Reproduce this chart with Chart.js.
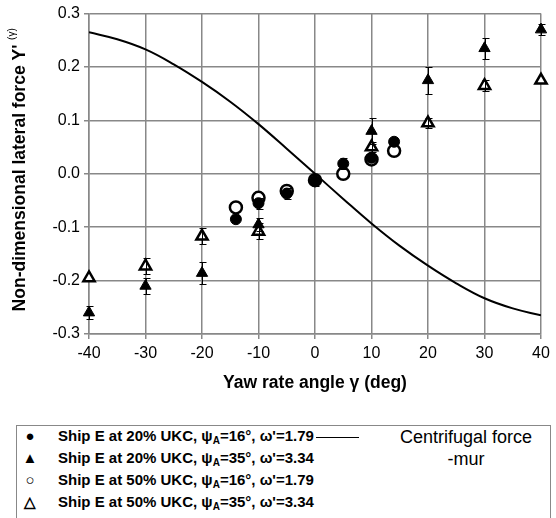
<!DOCTYPE html>
<html>
<head>
<meta charset="utf-8">
<script src="https://cdn.jsdelivr.net/npm/chart.js@4.4.0/dist/chart.umd.min.js"></script>
<style>
  body { margin: 0; background: #fff; font-family: "Liberation Sans", Arial, sans-serif; }
  #wrap { position: relative; width: 556px; height: 518px; }
  #legend {
    position: absolute; left: 16px; top: 425px; width: 535px; height: 100px;
    border: 1px solid #888; box-sizing: border-box;
  }
  .row { position: absolute; left: 0; height: 22px; font-size: 15px; font-weight: bold; white-space: nowrap; }
  .mk { position: absolute; left: 5px; width: 16px; text-align: center; font-size: 15px; }
  .tx { position: absolute; left: 41px; }
  sub { font-size: 10px; vertical-align: -3px; }
  #lineKey { position: absolute; left: 299px; top: 11px; width: 43px; border-top: 1.5px solid #000; }
  #lineTxt { position: absolute; left: 356px; top: 0px; width: 186px; text-align: center; font-size: 18px; line-height: 22px; }
</style>
</head>
<body>
<div id="wrap">
  <canvas id="myChart" width="556" height="418"></canvas>
  <div id="legend">
    <div class="row" style="top:1px"><span class="mk">●</span><span class="tx">Ship E at 20% UKC, ψ<sub>A</sub>=16°, ω'=1.79</span></div>
    <div class="row" style="top:23px"><span class="mk">▲</span><span class="tx">Ship E at 20% UKC, ψ<sub>A</sub>=35°, ω'=3.34</span></div>
    <div class="row" style="top:45px"><span class="mk">○</span><span class="tx">Ship E at 50% UKC, ψ<sub>A</sub>=16°, ω'=1.79</span></div>
    <div class="row" style="top:67px"><span class="mk">△</span><span class="tx">Ship E at 50% UKC, ψ<sub>A</sub>=35°, ω'=3.34</span></div>
    <div id="lineKey"></div>
    <div id="lineTxt">Centrifugal force<br>-mur</div>
  </div>
</div>
<script>
// yaw rate angle (deg) and measured lateral force
const circleX20 = [-14, -10, -5, 0, 5, 10, 14];
const circleY20 = [-0.085, -0.055, -0.037, -0.013, 0.019, 0.030, 0.060];
const circleErr20 = [0, 0.01, 0.01, 0.01, 0.01, 0, 0];

const triX20 = [-40, -30, -20, -10, 10, 20, 30, 40];
const triY20 = [-0.260, -0.210, -0.186, -0.095, 0.080, 0.175, 0.235, 0.270];
const triErr20 = [0.012, 0.015, 0.020, 0.012, 0.025, 0.025, 0.020, 0.010];

const circleX50 = [-14, -10, -5, 0, 5, 10, 14];
const circleY50 = [-0.063, -0.045, -0.032, -0.012, 0.000, 0.027, 0.043];
const circleErr50 = [0, 0, 0, 0, 0, 0, 0];

const triX50 = [-40, -30, -20, -10, 10, 20, 30, 40];
const triY50 = [-0.195, -0.173, -0.117, -0.108, 0.050, 0.095, 0.165, 0.175];
const triErr50 = [0, 0.015, 0.015, 0.015, 0.010, 0.010, 0.010, 0];

// centrifugal force -mur
const curveX = [-40, -35, -30, -25, -20, -15, -10, -5, 0, 5, 10, 15, 20, 25, 30, 35, 40];
const curveY = [0.265, 0.252, 0.233, 0.205, 0.172, 0.135, 0.093, 0.047, 0, -0.047, -0.093, -0.135, -0.172, -0.205, -0.233, -0.252, -0.265];

const xTicks = [-40, -30, -20, -10, 0, 10, 20, 30, 40];
const yTicks = [-0.3, -0.2, -0.1, 0.0, 0.1, 0.2, 0.3];

const pts = (xs, ys) => xs.map((x, i) => ({ x: x, y: ys[i] }));

const errorBars = {
    id: 'errorBars',
    afterDatasetsDraw(chart) {
        const ctx = chart.ctx;
        const xs = chart.scales.x, ys = chart.scales.y;
        ctx.save();
        ctx.strokeStyle = '#000';
        ctx.lineWidth = 1;
        chart.data.datasets.forEach(ds => {
            if (!ds.errors) return;
            ds.data.forEach((p, i) => {
                const e = ds.errors[i];
                if (!e) return;
                const px = Math.round(xs.getPixelForValue(p.x)) + 0.5;
                const y1 = Math.round(ys.getPixelForValue(p.y + e)) + 0.5;
                const y2 = Math.round(ys.getPixelForValue(p.y - e)) + 0.5;
                ctx.beginPath();
                ctx.moveTo(px, y1); ctx.lineTo(px, y2);
                ctx.moveTo(px - 3, y1); ctx.lineTo(px + 4, y1);
                ctx.moveTo(px - 3, y2); ctx.lineTo(px + 4, y2);
                ctx.stroke();
            });
        });
        ctx.restore();
    }
};

const yTitle = {
    id: 'yTitle',
    afterDraw(chart) {
        const ctx = chart.ctx;
        const a = chart.chartArea;
        ctx.save();
        ctx.translate(20, (a.top + a.bottom) / 2 - 3);
        ctx.rotate(-Math.PI / 2);
        ctx.fillStyle = '#000';
        ctx.textBaseline = 'middle';
        const main = "Non-dimensional lateral force Y'";
        ctx.font = 'bold 17.5px "Liberation Sans", Arial';
        const w1 = ctx.measureText(main).width;
        ctx.font = '10px "Liberation Sans", Arial';
        const w2 = ctx.measureText(' (γ)').width;
        let x0 = -(w1 + w2) / 2;
        ctx.font = 'bold 17.5px "Liberation Sans", Arial';
        ctx.fillText(main, x0, 0);
        ctx.font = '10px "Liberation Sans", Arial';
        ctx.fillText(' (γ)', x0 + w1 + 2, -8);
        ctx.restore();
    }
};

const chartSettings = {
    type: 'scatter',
    data: {
        datasets: [
            {
                label: 'Centrifugal force -mur',
                data: pts(curveX, curveY),
                showLine: true,
                borderColor: '#000',
                borderWidth: 2,
                pointRadius: 0,
                tension: 0.4,
                order: 5
            },
            {
                label: 'Ship E at 20% UKC, 16',
                data: pts(circleX20, circleY20),
                errors: circleErr20,
                pointStyle: 'circle',
                pointRadius: 5.5,
                backgroundColor: '#000',
                borderColor: '#000',
                borderWidth: 1,
                clip: false
            },
            {
                label: 'Ship E at 20% UKC, 35',
                data: pts(triX20, triY20),
                errors: triErr20,
                pointStyle: 'triangle',
                pointRadius: 6.5,
                backgroundColor: '#000',
                borderColor: '#000',
                borderWidth: 1,
                clip: false
            },
            {
                label: 'Ship E at 50% UKC, 16',
                data: pts(circleX50, circleY50),
                errors: circleErr50,
                pointStyle: 'circle',
                pointRadius: 6,
                backgroundColor: '#fff',
                borderColor: '#000',
                borderWidth: 2.5,
                clip: false
            },
            {
                label: 'Ship E at 50% UKC, 35',
                data: pts(triX50, triY50),
                errors: triErr50,
                pointStyle: 'triangle',
                pointRadius: 6.5,
                backgroundColor: '#fff',
                borderColor: '#000',
                borderWidth: 2.5,
                clip: false
            }
        ]
    },
    options: {
        responsive: false,
        animation: false,
        layout: { padding: { top: 12, right: 15, left: 0, bottom: 20 } },
        plugins: { legend: { display: false }, tooltip: { enabled: false } },
        scales: {
            x: {
                type: 'linear',
                min: -40, max: 40,
                afterBuildTicks: s => { s.ticks = xTicks.map(v => ({ value: v })); },
                ticks: {
                    color: '#000',
                    font: { size: 16, family: '"Liberation Sans", Arial' },
                    padding: 5
                },
                grid: { color: '#888', lineWidth: 1.5, tickLength: 5 },
                border: { color: '#888', width: 1.5 },
                title: {
                    display: true,
                    text: 'Yaw rate angle γ (deg)',
                    color: '#000',
                    font: { size: 17.5, weight: 'bold', family: '"Liberation Sans", Arial' },
                    padding: { top: 6 }
                },
                afterFit: s => { s.height = 64; }
            },
            y: {
                min: -0.3, max: 0.3,
                afterBuildTicks: s => { s.ticks = yTicks.map(v => ({ value: v })); },
                ticks: {
                    color: '#000',
                    font: { size: 16, family: '"Liberation Sans", Arial' },
                    padding: 4,
                    callback: v => v.toFixed(1)
                },
                grid: { color: '#888', lineWidth: 1.5, tickLength: 5 },
                border: { color: '#888', width: 1.5 },
                afterFit: s => { s.width = 89; }
            }
        }
    },
    plugins: [errorBars, yTitle]
};

window.onload = function () {
    const ctx = document.getElementById("myChart").getContext("2d");
    new Chart(ctx, chartSettings);
};
</script>
</body>
</html>
